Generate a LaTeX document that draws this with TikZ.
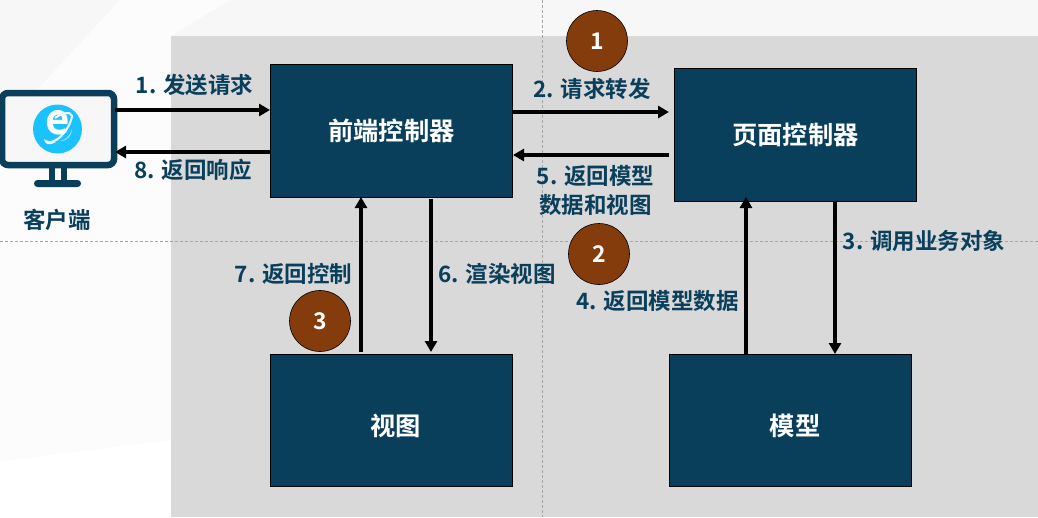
\documentclass[tikz,border=0pt]{standalone}
\usepackage{fontspec}
\setmainfont{Noto Sans CJK SC Bold}
\usetikzlibrary{arrows.meta,calc}
\definecolor{navy}{HTML}{0A3F5C}
\definecolor{brownc}{HTML}{843C0C}
\definecolor{panel}{HTML}{D9D9D9}
\definecolor{paper}{HTML}{F7F7F8}
\definecolor{iecol}{HTML}{1AC3FF}
\newcommand{\boxtext}[1]{\smash{\raisebox{-9.5pt}{#1}}}
\tikzset{
  x=1pt,y=-1pt,
  boxn/.style={draw=black,line width=1pt,fill=navy,text=white,minimum width=242pt,minimum height=132pt,inner sep=0pt,font=\fontsize{25.3}{28}\selectfont},
  lab/.style={text=navy,inner sep=0pt,font=\fontsize{22.5}{28.5}\selectfont,align=center},
  num/.style={circle,draw=black,line width=.6pt,fill=brownc,text=white,minimum size=61pt,inner sep=0pt,font=\fontsize{23}{26}\selectfont},
  arr/.style={draw=black,line width=3.6pt,-{Triangle[length=11pt,width=12pt]}},
  guide/.style={draw=gray!70,line width=.6pt,dash pattern=on 3pt off 2pt},
}
\begin{document}
\begin{tikzpicture}
\useasboundingbox (0,0) rectangle (1038,517);
\fill[paper] (0,0) rectangle (1038,517);
\fill[white!60!paper] (0,130) -- (120,0) -- (230,0) -- (171,36) -- (171,440) -- (0,461) -- cycle;
\fill[white] (0,461) -- (171,440) -- (171,517) -- (0,517) -- cycle;
\fill[panel] (171,35.5) rectangle (1038,517);
\draw[guide] (542,0) -- (542,517);
\draw[guide] (0,241) -- (1038,241);
% monitor
\fill[navy] (49,166) rectangle (55,185);
\fill[navy] (61,166) rectangle (67,185);
\fill[navy,rounded corners=3.4pt] (34,180) rectangle (81,187);
\node[draw=navy,line width=6.5pt,fill=paper,rounded corners=6pt,minimum width=112pt,minimum height=72pt,inner sep=0pt] (mon) at (58,129) {};
\fill[iecol] (57.5,129) circle (24.5);
\draw[white,line width=2pt] (45,141) .. controls (54,147) and (70,130) .. (72,116) .. controls (71,111) and (62,113) .. (55,118);
\fill[white] (44,139) .. controls (46,147) and (52,144) .. (56,142) .. controls (50,142) and (46,141) .. (44,139) -- cycle;
\fill[white!60!iecol] (60,141) .. controls (66,140) and (70,136) .. (72,129) .. controls (72,135) and (68,141) .. (60,141) -- cycle;
\node[text=white,inner sep=0pt,font=\fontsize{42}{42}\selectfont] (ie) at (57.5,123) {e};
\node[lab] (client) at (57,220) {客户端};
% boxes
\node[boxn,minimum height=133pt] (fc) at (391.5,131) {\boxtext{前端控制器}};
\node[boxn,minimum height=133pt] (pc) at (795.5,135) {\boxtext{页面控制器}};
\node[boxn] (view) at (391.5,420.5) {\hspace*{8pt}\smash{\raisebox{-14.5pt}{视图}}};
\node[boxn] (model) at (790.5,420.5) {\hspace*{9pt}\smash{\raisebox{-14.5pt}{模型}}};
% connectors
\coordinate (m1) at (115,110);
\coordinate (m8) at (115,152);
\coordinate (f1) at (270,110);
\coordinate (f8) at (270,152);
\draw[arr] (m1) -- (f1);
\draw[arr] (f8) -- (m8);
\coordinate (f2) at (513,112);
\coordinate (p2) at (669,112);
\coordinate (p5) at (669,155);
\coordinate (f5) at (513,155);
\draw[arr] (f2) -- (p2);
\draw[arr] (p5) -- (f5);
\coordinate (f7) at (361,197);
\coordinate (v7) at (361,352);
\coordinate (f6) at (431,199);
\coordinate (v6) at (431,352);
\draw[arr] (v7) -- (f7);
\draw[arr] (f6) -- (v6);
\coordinate (p4) at (746,197);
\coordinate (m4) at (746,354);
\coordinate (p3) at (835,202);
\coordinate (m3) at (835,354);
\draw[arr] (m4) -- (p4);
\draw[arr] (p3) -- (m3);
% labels
\node[lab] (l1) at (194.5,84.5) {1. 发送请求};
\node[lab] (l8) at (193,169.5) {8. 返回响应};
\node[lab] (l2) at (592,88.5) {2. 请求转发};
\node[lab] (l5) at (595.5,190.5) {5. 返回模型\\数据和视图};
\node[lab] (l3) at (924,240.5) {3. 调用业务对象};
\node[lab] (l4) at (657.5,300.5) {4. 返回模型数据};
\node[lab] (l6) at (497,273.5) {6. 渲染视图};
\node[lab] (l7) at (293.5,273.5) {7. 返回控制};
% numbered circles
\node[num] (n1) at (597,41) {1};
\node[num] (n2) at (599,254) {2};
\node[num] (n3) at (320,321) {3};
\end{tikzpicture}
\end{document}
